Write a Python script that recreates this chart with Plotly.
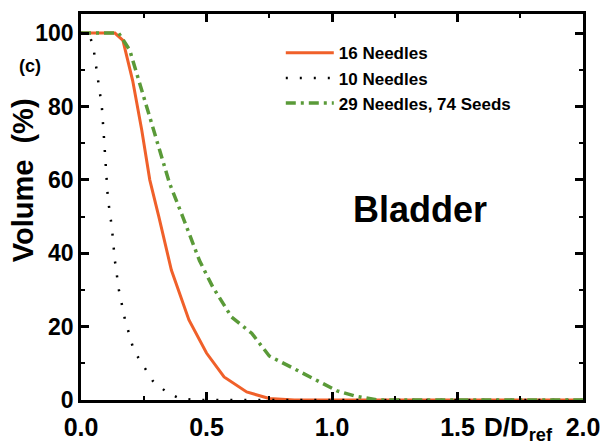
import plotly.graph_objects as go

# 16 Needles (solid orange)
x16 = [0, 0.135, 0.167, 0.206, 0.242, 0.274, 0.31, 0.36, 0.43, 0.50, 0.57, 0.66, 0.75, 0.85, 2.0]
y16 = [100, 100, 98, 87, 73.6, 60, 50, 35.4, 21.8, 12.8, 6.3, 2.2, 0.4, 0, 0]

# 10 Needles (black dotted)
x10 = [0, 0.03, 0.048, 0.067, 0.083, 0.091, 0.10, 0.107, 0.123, 0.135, 0.151, 0.175, 0.21, 0.246, 0.286, 0.34, 0.39, 0.45, 2.0]
y10 = [100, 100, 96.7, 88, 80, 72, 63.5, 55, 47, 38, 30, 22, 13.6, 9.5, 5.2, 2.2, 0.5, 0, 0]

# 29 Needles, 74 Seeds (green dash-dot)
x29 = [0, 0.15, 0.194, 0.266, 0.313, 0.353, 0.405, 0.472, 0.525, 0.60, 0.68, 0.75, 0.85, 0.95, 1.02, 1.09, 1.18, 2.0]
y29 = [100, 100, 95.4, 79, 68, 59, 50, 38, 30.8, 22.6, 18.2, 12, 8.5, 5, 2.5, 1.1, 0, 0]

names = ["16 Needles", "10 Needles", "29 Needles, 74 Seeds"]

x_ticks = [0, 0.5, 1.0, 1.5, 2.0]
x_ticklabels = ["0.0", "0.5", "1.0", "1.5", "2.0"]
y_ticks = [0, 20, 40, 60, 80, 100]
y_ticklabels = ["0", "20", "40", "60", "80", "100"]

fig = go.Figure()
fig.add_trace(go.Scatter(x=x16, y=y16, mode="lines", name=names[0],
                         line=dict(color="#F0602A", width=3)))
fig.add_trace(go.Scatter(x=x10, y=y10, mode="lines", name=names[1],
                         line=dict(color="black", width=2.5, dash="2px,12px")))
fig.add_trace(go.Scatter(x=x29, y=y29, mode="lines", name=names[2],
                         line=dict(color="#5A9A38", width=3.5, dash="10px,5px,3px,5px")))

fam = "Arial, Liberation Sans, sans-serif"
font_b = dict(family=fam, color="black")

axis_common = dict(
    showline=True, linecolor="black", linewidth=2.5, mirror="allticks",
    ticks="inside", ticklen=8, tickwidth=2.5, tickcolor="black",
    showgrid=False, zeroline=False, automargin=False,
)

fig.update_xaxes(range=[0, 2.0], tickvals=x_ticks,
                 ticktext=["<b>%s</b>" % t for t in x_ticklabels],
                 tickfont=dict(size=25, **font_b), ticklabelstandoff=3,
                 minor=dict(ticks="inside", ticklen=4, tickwidth=2, tickcolor="black", dtick=0.25, tick0=0),
                 **axis_common)
fig.update_yaxes(range=[0, 105.2], tickvals=y_ticks,
                 ticktext=["<b>%s</b>" % t for t in y_ticklabels],
                 tickfont=dict(size=23, **font_b),
                 minor=dict(ticks="inside", ticklen=4, tickwidth=2, tickcolor="black", dtick=10, tick0=0),
                 **axis_common)

fig.update_layout(
    width=602, height=447,
    margin=dict(l=81, r=19, t=14, b=47),
    plot_bgcolor="white", paper_bgcolor="white",
    showlegend=True,
    legend=dict(x=0.398, y=0.945, xanchor="left", yanchor="top",
                bgcolor="rgba(0,0,0,0)", itemwidth=48,
                font=dict(size=17, family=fam, color="black", weight="bold")),
    annotations=[
        dict(text="<b>Volume  (%)</b>", xref="paper", yref="paper", x=-0.115, y=0.57,
             textangle=-90, showarrow=False, font=dict(size=29, **font_b),
             xanchor="center", yanchor="middle"),
        dict(text="<b>(c)</b>", xref="paper", yref="paper", x=-0.127, y=0.865,
             showarrow=False, font=dict(size=18, **font_b), xanchor="left", yanchor="middle"),
        dict(text="<b>Bladder</b>", xref="x", yref="y", x=1.35, y=52,
             showarrow=False, font=dict(size=36, **font_b), xanchor="center", yanchor="middle"),
        dict(text="<b>D/D<sub>ref</sub></b>", xref="paper", yref="paper", x=0.872, y=-0.075,
             showarrow=False, font=dict(size=26, **font_b), xanchor="center", yanchor="middle"),
    ],
)

fig.write_html("out.html")
